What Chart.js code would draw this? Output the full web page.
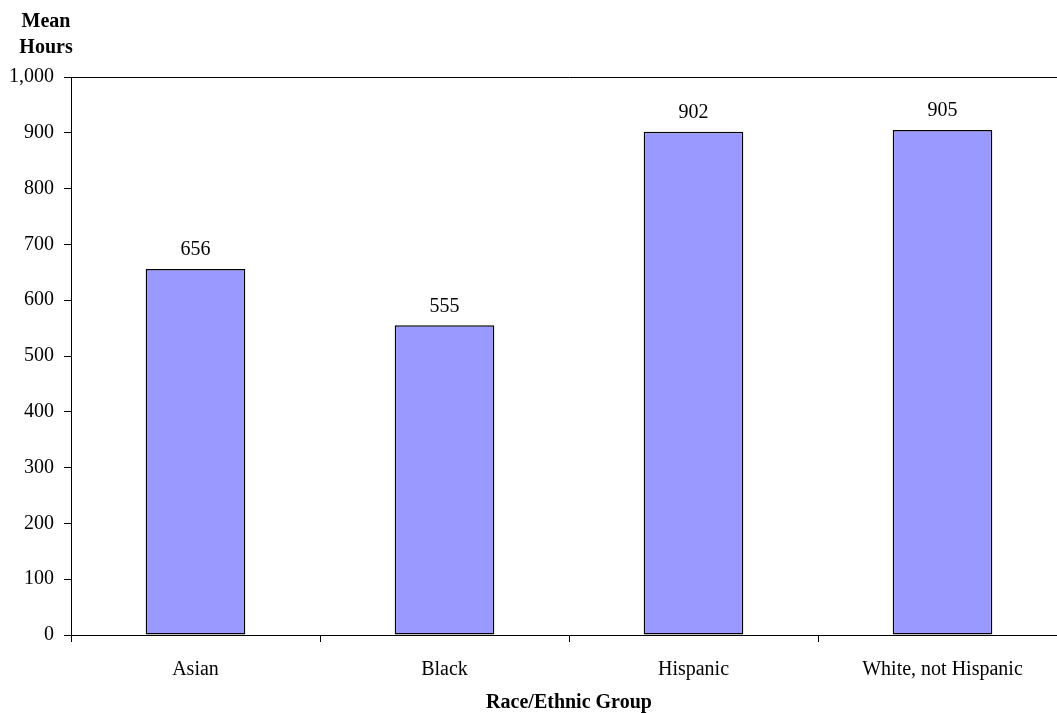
<!DOCTYPE html>
<html>
<head>
<meta charset="utf-8">
<script src="https://cdn.jsdelivr.net/npm/chart.js@4/dist/chart.umd.min.js"></script>
<style>
  html, body { margin: 0; padding: 0; background: #fff; overflow: hidden; }
  canvas { display: block; }
</style>
</head>
<body>
<canvas id="c" width="1070" height="713"></canvas>
<script>
// Mean hours by race/ethnic group
const categories = ['Asian', 'Black', 'Hispanic', 'White, not Hispanic'];
const meanHours = [656, 555, 902, 905];
const yTicks = [0, 100, 200, 300, 400, 500, 600, 700, 800, 900, 1000];

const FONT = 'Liberation Serif, Times New Roman, serif';

// value labels above each bar
const valueLabels = {
  id: 'valueLabels',
  afterDatasetsDraw(chart) {
    const ctx = chart.ctx;
    const meta = chart.getDatasetMeta(0);
    ctx.save();
    ctx.font = '20px ' + FONT;
    ctx.fillStyle = '#000';
    ctx.textAlign = 'center';
    ctx.textBaseline = 'middle';
    meta.data.forEach((bar, i) => {
      ctx.fillText(meanHours[i].toLocaleString('en-US'), bar.x, bar.y - 19);
    });
    ctx.restore();
  }
};

// stacked "Mean / Hours" heading above the value axis
const axisHeading = {
  id: 'axisHeading',
  afterDraw(chart) {
    const ctx = chart.ctx;
    ctx.save();
    ctx.font = 'bold 20px ' + FONT;
    ctx.fillStyle = '#000';
    ctx.textAlign = 'center';
    ctx.textBaseline = 'middle';
    ctx.fillText('Mean', 46, 22);
    ctx.fillText('Hours', 46, 48);
    ctx.restore();
  }
};

new Chart(document.getElementById('c'), {
  type: 'bar',
  data: {
    labels: categories,
    datasets: [{
      data: meanHours,
      backgroundColor: '#9999FF',
      borderColor: '#000',
      borderWidth: 1.5,
      borderSkipped: false,
      barPercentage: 0.4,
      categoryPercentage: 1.0
    }]
  },
  options: {
    responsive: false,
    animation: false,
    devicePixelRatio: 1,
    layout: { padding: { top: 77, left: 0, right: 3, bottom: 0 } },
    plugins: {
      legend: { display: false },
      tooltip: { enabled: false },
      title: { display: false }
    },
    scales: {
      x: {
        afterFit(scale) { scale.height = 78; },
        grid: {
          offset: true,
          drawOnChartArea: false,
          drawTicks: true,
          tickLength: 7,
          tickColor: '#000',
          lineWidth: 1
        },
        border: { color: '#000', width: 1 },
        ticks: {
          color: '#000',
          font: { family: FONT, size: 20 },
          padding: 16,
          maxRotation: 0
        },
        title: {
          display: true,
          text: 'Race/Ethnic Group',
          color: '#000',
          font: { family: FONT, size: 20, weight: 'bold', lineHeight: 1.0 },
          padding: 0
        }
      },
      y: {
        min: 0,
        max: 1000,
        afterFit(scale) { scale.width = 71; },
        afterBuildTicks(scale) { scale.ticks = yTicks.map(v => ({ value: v })); },
        grid: {
          color: (c) => (c.tick && c.tick.value === 1000 ? '#000' : 'rgba(0,0,0,0)'),
          tickColor: '#000',
          tickLength: 7,
          lineWidth: 1
        },
        border: { color: '#000', width: 1 },
        ticks: {
          color: '#000',
          font: { family: FONT, size: 20 },
          padding: 10,
          callback: (v) => Number(v).toLocaleString('en-US')
        }
      }
    }
  },
  plugins: [valueLabels, axisHeading]
});
</script>
</body>
</html>
